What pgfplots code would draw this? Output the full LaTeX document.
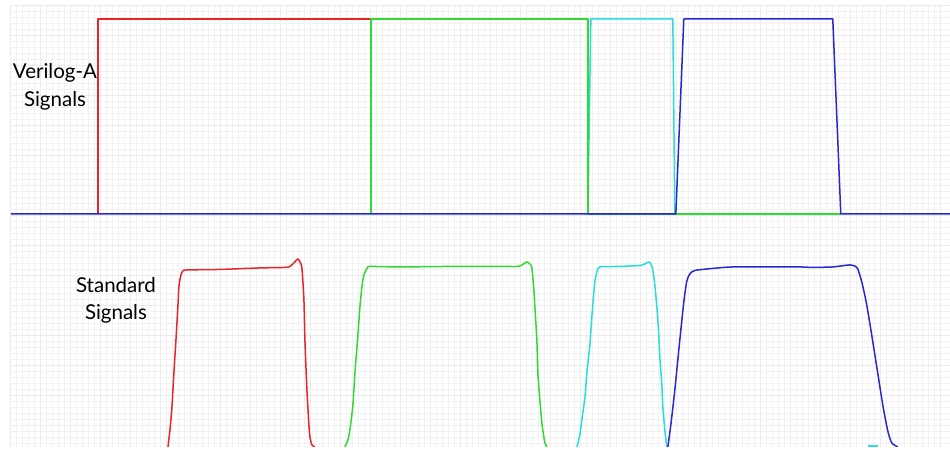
\documentclass[border=0pt]{standalone}
\usepackage{pgfplots}
\pgfplotsset{compat=1.18}
\usepackage{fontspec}
\setmainfont{Lato}
\usetikzlibrary{calc}
\definecolor{cred}{RGB}{232,36,40}
\definecolor{cgreen}{RGB}{48,218,48}
\definecolor{ccyan}{RGB}{40,220,220}
\definecolor{cblue}{RGB}{40,40,210}
\begin{document}
\begin{tikzpicture}
\begin{axis}[name=ax,
  width=940bp, height=442bp, scale only axis,
  xmin=10, xmax=950, ymin=5, ymax=447, y dir=reverse,
  axis line style={draw=none},
  xtick={10,40,...,950}, ytick={5,35,...,447},
  minor tick num=4,
  xticklabels={}, yticklabels={},
  major tick length=0pt, minor tick length=0pt,
  grid=both,
  major grid style={color=black!8, line width=0.5bp},
  minor grid style={color=black!5, line width=0.5bp},
  clip=true,
  every axis plot/.append style={line width=1.5bp, line join=round},
]
% Verilog-A (top) signals
\addplot[cred] coordinates {(98,214) (98,19) (371,19) (371,214)};
\addplot[ccyan] coordinates {(588,214) (591,19) (673,19) (675,214)};
\addplot[cgreen] coordinates {(371,214) (371,19) (588,19) (588,214) (841,214)};
\addplot[cblue] coordinates {(11,214) (676,214) (684,19) (833,19) (841,214) (950,214)};
% Standard (bottom) signals
\addplot[cred, smooth, tension=0.4] coordinates {(168,447) (170,430) (172,407) (174,372) (176,340) (178,305) (179,286) (181,275) (183,271) (187,270) (220,269.5) (260,268) (285,267.5) (290,266.5) (294,263) (298,259) (300,262) (302,268) (304,300) (305,340) (307,390) (309,425) (310,437) (312,445) (315,447)};
\addplot[cgreen, smooth, tension=0.4] coordinates {(345,447) (348,440) (350,430) (353,405) (355,373) (358,335) (360,307) (362,287) (364,275) (368,267) (372,266.5) (400,267) (450,266.5) (500,266.5) (518,266.5) (522,265) (527,262) (530,264) (532,268) (534,290) (535,307) (537,340) (538,373) (540,400) (542,423) (544,437) (545,443) (547,447)};
\addplot[ccyan, smooth, tension=0.4] coordinates {(577,447) (580,435) (582,420) (585,398) (587,373) (590,345) (592,317) (594,292) (595,282) (597,272) (600,267) (620,266.5) (640,265.5) (645,264) (649,262) (651,264) (653,270) (655,285) (657,307) (659,335) (660,357) (662,385) (663,407) (665,430) (667,447)};
\addplot[ccyan] coordinates {(868,446) (878,446)};
\addplot[cblue, smooth, tension=0.4] coordinates {(668,447) (671,425) (675,390) (680,340) (684,302) (687,281) (690,274) (695,270.5) (713,268.5) (733,267) (773,267) (800,267) (813,267.5) (833,267) (845,265.5) (850,265) (855,266) (858,269) (862,282) (866,300) (870,323) (877,367) (883,405) (888,431) (892,443) (898,447)};
\node[anchor=base, font=\fontsize{20.5bp}{22bp}\selectfont] at (axis cs:55,79) {Verilog-A};
\node[anchor=base, font=\fontsize{20.5bp}{22bp}\selectfont] at (axis cs:55,107) {Signals};
\node[anchor=base, font=\fontsize{20.5bp}{22bp}\selectfont] at (axis cs:116,293) {Standard};
\node[anchor=base, font=\fontsize{20.5bp}{22bp}\selectfont] at (axis cs:116,320) {Signals};
\end{axis}
\path[use as bounding box] ($(ax.south west)+(-10bp,0)$) rectangle ($(ax.north east)+(0,5bp)$);
\end{tikzpicture}
\end{document}
